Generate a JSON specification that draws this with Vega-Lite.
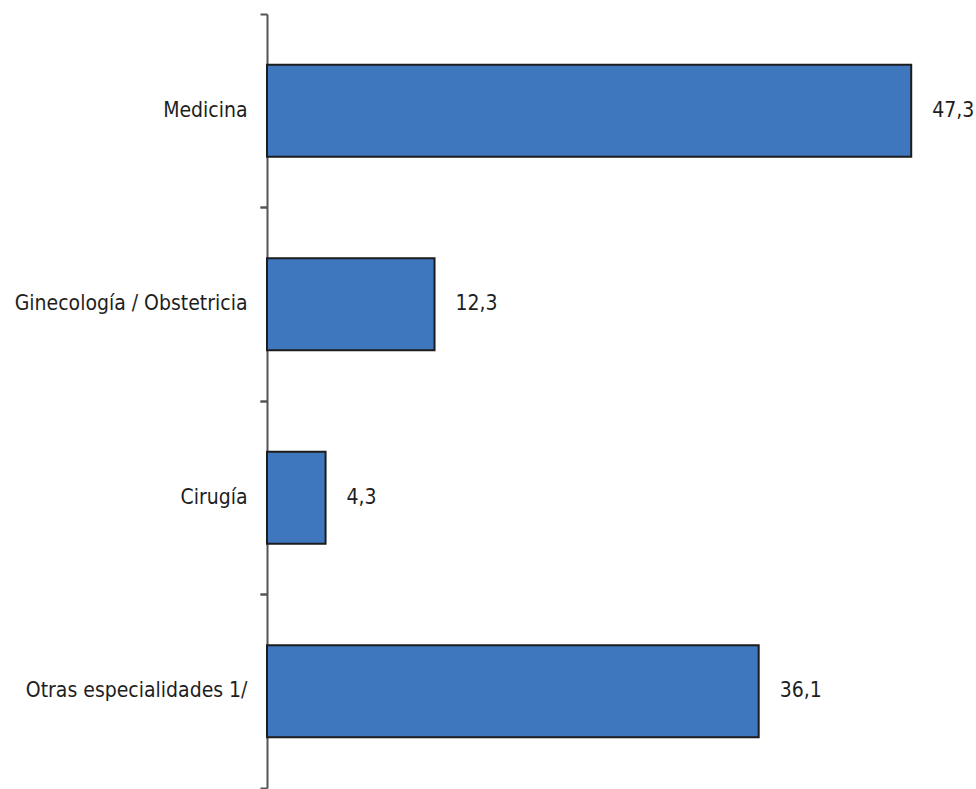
{
  "$schema": "https://vega.github.io/schema/vega-lite/v6.json",
  "autosize": {"type": "none"},
  "padding": {"left": 267, "top": 14, "right": 28, "bottom": 1},
  "width": 681,
  "height": 774,
  "background": "white",
  "config": {
    "view": {"stroke": null},
    "locale": {"number": {"decimal": ",", "thousands": ".", "grouping": [3], "currency": ["", " €"]}}
  },
  "data": {
    "values": [
      {"especialidad": "Medicina", "valor": 47.3},
      {"especialidad": "Ginecología / Obstetricia", "valor": 12.3},
      {"especialidad": "Cirugía", "valor": 4.3},
      {"especialidad": "Otras especialidades 1/", "valor": 36.1}
    ]
  },
  "encoding": {
    "y": {
      "field": "especialidad",
      "type": "nominal",
      "sort": null,
      "scale": {"paddingInner": 0, "paddingOuter": 0},
      "title": null
    },
    "x": {
      "field": "valor",
      "type": "quantitative",
      "scale": {"domain": [0, 50], "nice": false},
      "axis": null
    }
  },
  "layer": [
    {
      "mark": {"type": "bar", "height": {"band": 0.475}, "fill": "#3f77be", "stroke": "#1c1c1c", "strokeWidth": 2},
      "encoding": {
        "y": {
          "field": "especialidad",
          "type": "nominal",
          "sort": null,
          "title": null,
          "axis": {
            "orient": "left",
            "bandPosition": 0,
            "tickSize": 7,
            "tickWidth": 2,
            "tickColor": "#555555",
            "domainColor": "#555555",
            "domainWidth": 2,
            "labelPadding": 13,
            "labelFont": "DejaVu Sans Condensed, Liberation Sans",
            "labelFontSize": 21,
            "labelColor": "#1e1e1e",
            "labelLimit": 400
          }
        }
      }
    },
    {
      "mark": {"type": "text", "align": "left", "baseline": "middle", "dx": 21, "font": "DejaVu Sans Condensed, Liberation Sans", "fontSize": 21, "color": "#1e1e1e"},
      "encoding": {
        "text": {"field": "valor", "type": "quantitative", "format": ".1f"},
        "y": {
          "field": "especialidad",
          "type": "nominal",
          "sort": null,
          "title": null,
          "axis": {
            "orient": "left",
            "bandPosition": 1,
            "labels": false,
            "domain": false,
            "tickSize": 7,
            "tickWidth": 2,
            "tickColor": "#555555"
          }
        }
      }
    }
  ],
  "resolve": {"axis": {"y": "independent"}}
}
